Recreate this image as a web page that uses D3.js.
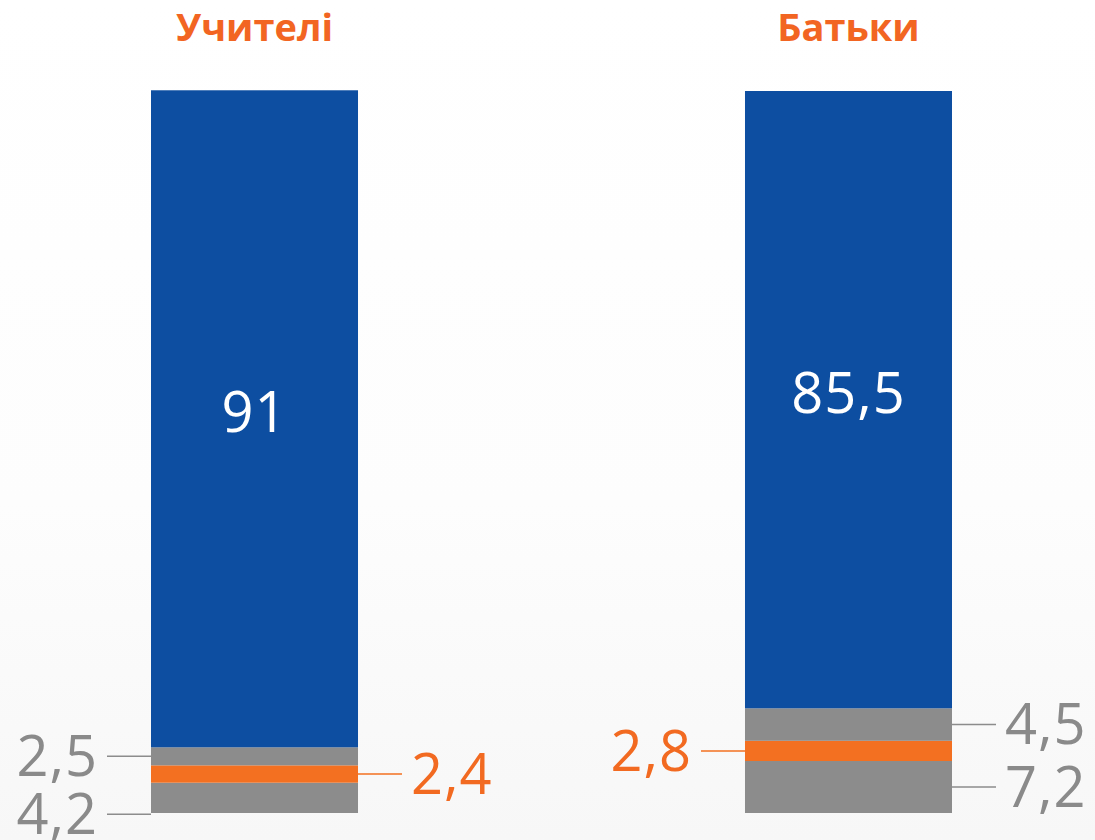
<!DOCTYPE html>
<html>
<head>
<meta charset="utf-8">
<script src="https://cdn.jsdelivr.net/npm/d3@7"></script>
<style>
    body { margin: 0; background: #ffffff; }
    svg { display: block; }
    .title { font-family: "Open Sans", sans-serif; font-weight: 700; font-size: 38px; fill: #f26522; }
    .valueLabel { font-family: "Open Sans", sans-serif; font-size: 56px; letter-spacing: 1px; }
    .innerLabel { font-family: "Open Sans", sans-serif; font-size: 56px; fill: #ffffff; letter-spacing: 1px; }
</style>
</head>
<body>
<script>
(function() {

    ////////////////////
    //Global Variables//
    ////////////////////
    // chart data, one entry per bar
    var groups = ["Учителі", "Батьки"];
    var blueValues = [91, 85.5];
    var grayTopValues = [2.5, 4.5];
    var orangeValues = [2.4, 2.8];
    var grayBottomValues = [4.2, 7.2];

    // stack order, bottom to top
    var keys = ["grayBottom", "orange", "grayTop", "blue"];
    var colors = {
        grayBottom: "#8c8c8c",
        orange: "#f37021",
        grayTop: "#8c8c8c",
        blue: "#0d4ea1"
    };

    // frame
    var width = 1095,
        height = 840,
        barLeft = 151,
        barRight = 952,
        barTop = 91,
        barBottom = 813,
        leaderLength = 44,
        labelGap = 9,
        minLabelGap = 58;

    // decimal comma, one decimal at most
    var fmt = function(v) {
        return String(Math.round(v * 10) / 10).replace(".", ",");
    };

    // table for d3.stack
    var table = groups.map(function(g, i) {
        return {
            group: g,
            grayBottom: grayBottomValues[i],
            orange: orangeValues[i],
            grayTop: grayTopValues[i],
            blue: blueValues[i]
        };
    });

    var svg = d3.select("body")
        .append("svg")
        .attr("width", width)
        .attr("height", height);

    // faint background wash
    var defs = svg.append("defs");
    var grad = defs.append("linearGradient")
        .attr("id", "bg")
        .attr("x1", 0).attr("y1", 0)
        .attr("x2", 0).attr("y2", 1);
    grad.append("stop").attr("offset", "0%").attr("stop-color", "#ffffff");
    grad.append("stop").attr("offset", "60%").attr("stop-color", "#fdfdfd");
    grad.append("stop").attr("offset", "100%").attr("stop-color", "#f7f7f7");
    svg.append("rect")
        .attr("width", width)
        .attr("height", height)
        .attr("fill", "url(#bg)");

    // scales
    var xScale = d3.scaleBand()
        .domain(groups)
        .range([barLeft, barRight])
        .paddingInner(0.6515)
        .paddingOuter(0);

    var yScale = d3.scaleLinear()
        .domain([0, 100])
        .range([barBottom, barTop]);

    var series = d3.stack().keys(keys)(table);

    // bars
    var layers = svg.selectAll(".layer")
        .data(series)
        .enter()
        .append("g")
        .attr("class", "layer")
        .attr("fill", function(d) { return colors[d.key]; });

    layers.selectAll("rect")
        .data(function(d) { return d; })
        .enter()
        .append("rect")
        .attr("x", function(d) { return xScale(d.data.group); })
        .attr("width", xScale.bandwidth())
        .attr("y", function(d) { return yScale(d[1]); })
        .attr("height", function(d) { return yScale(d[0]) - yScale(d[1]); });

    // titles
    svg.selectAll(".title")
        .data(groups)
        .enter()
        .append("text")
        .attr("class", "title")
        .attr("text-anchor", "middle")
        .attr("x", function(d) { return xScale(d) + xScale.bandwidth() / 2; })
        .attr("y", 41)
        .text(function(d) { return d; });

    // big value inside the blue part
    var blueSeries = series[keys.indexOf("blue")];
    svg.selectAll(".innerLabel")
        .data(blueSeries)
        .enter()
        .append("text")
        .attr("class", "innerLabel")
        .attr("text-anchor", "middle")
        .attr("x", function(d) { return xScale(d.data.group) + xScale.bandwidth() / 2; })
        .attr("y", function(d) { return (yScale(d[0]) + yScale(d[1])) / 2 - 6; })
        .attr("dy", "0.35em")
        .text(function(d) { return fmt(d[1] - d[0]); });

    // small segment labels with leader lines
    // gray ones go to the outer side, orange ones to the inner side
    var labels = [];
    groups.forEach(function(g, gi) {
        ["grayTop", "orange", "grayBottom"].forEach(function(key) {
            var s = series[keys.indexOf(key)][gi];
            var outer = gi === 0 ? "left" : "right";
            var inner = gi === 0 ? "right" : "left";
            labels.push({
                group: g,
                key: key,
                value: s[1] - s[0],
                side: key === "orange" ? inner : outer,
                y: (yScale(s[0]) + yScale(s[1])) / 2
            });
        });
    });

    // keep labels on the same side from overlapping (top-down push)
    d3.groups(labels, function(d) { return d.group + d.side; }).forEach(function(entry) {
        var items = entry[1].sort(function(a, b) { return a.y - b.y; });
        for (var i = 1; i < items.length; i++) {
            if (items[i].y - items[i - 1].y < minLabelGap) {
                items[i].y = items[i - 1].y + minLabelGap;
            }
        }
    });

    var labelG = svg.selectAll(".segLabel")
        .data(labels)
        .enter()
        .append("g")
        .attr("class", "segLabel");

    labelG.append("line")
        .attr("x1", function(d) {
            return d.side === "left" ? xScale(d.group) : xScale(d.group) + xScale.bandwidth();
        })
        .attr("x2", function(d) {
            return d.side === "left" ? xScale(d.group) - leaderLength
                : xScale(d.group) + xScale.bandwidth() + leaderLength;
        })
        .attr("y1", function(d) { return d.y; })
        .attr("y2", function(d) { return d.y; })
        .attr("stroke", function(d) { return d.key === "orange" ? "#f37021" : "#8c8c8c"; })
        .attr("stroke-width", 1.5);

    labelG.append("text")
        .attr("class", "valueLabel")
        .attr("text-anchor", function(d) { return d.side === "left" ? "end" : "start"; })
        .attr("x", function(d) {
            return d.side === "left" ? xScale(d.group) - leaderLength - labelGap
                : xScale(d.group) + xScale.bandwidth() + leaderLength + labelGap;
        })
        .attr("y", function(d) { return d.y; })
        .attr("dy", "0.35em")
        .attr("fill", function(d) { return d.key === "orange" ? "#f26a21" : "#8a8a8a"; })
        .text(function(d) { return fmt(d.value); });

})();
</script>
</body>
</html>
